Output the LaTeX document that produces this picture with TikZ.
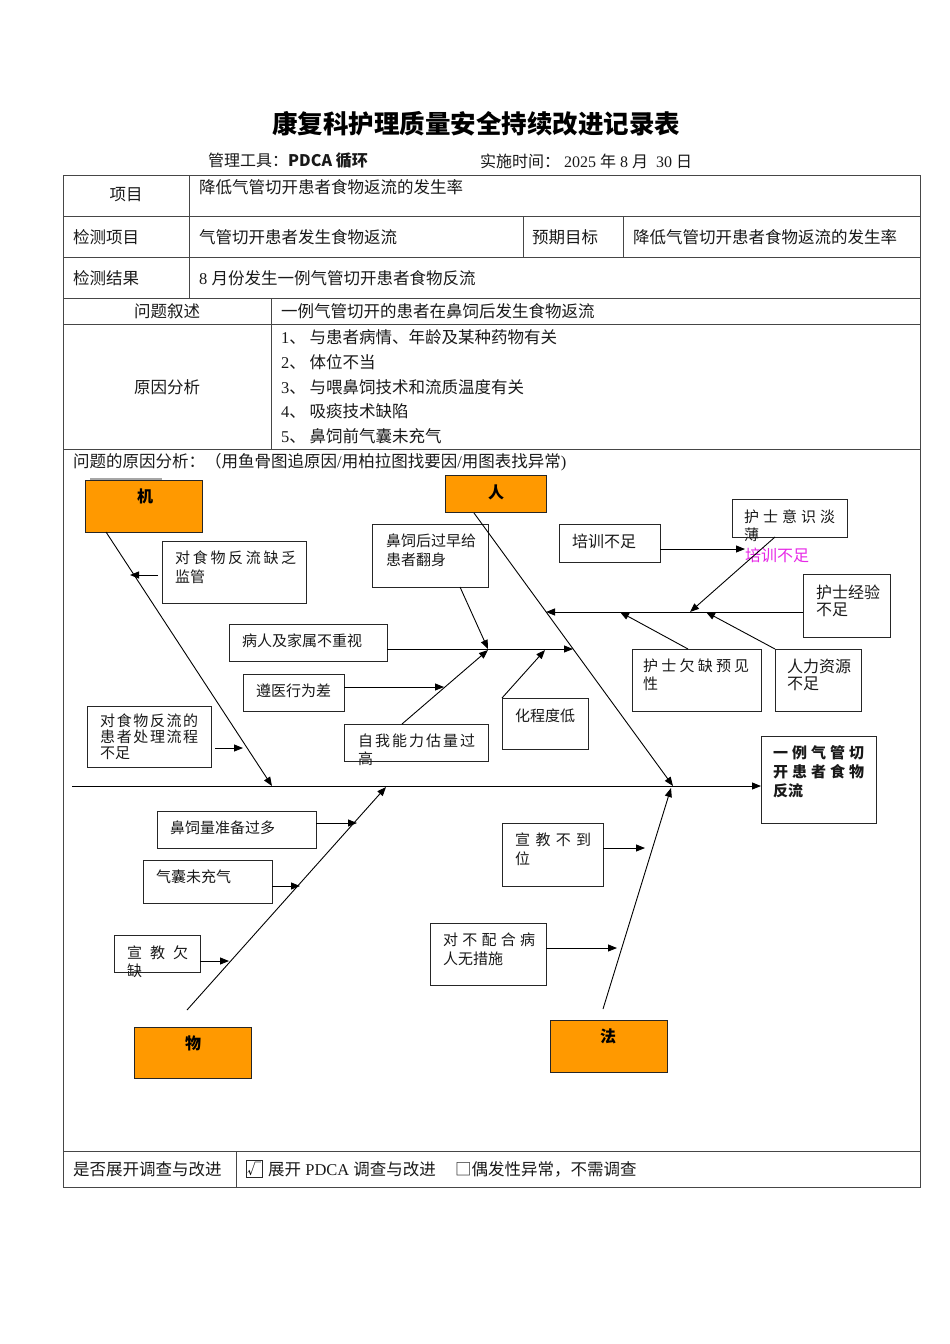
\documentclass[tikz,border=0pt]{standalone}
\usepackage{fontspec}
\setmainfont{Noto Sans CJK SC}
\newfontfamily\lat{Liberation Serif}
\usetikzlibrary{arrows.meta}
\definecolor{orng}{RGB}{255,153,0}
\definecolor{tline}{RGB}{70,70,70}
\definecolor{txt}{RGB}{25,25,25}
\definecolor{mag}{RGB}{230,40,230}
\newcommand\mybox[6][bx]{\node[#1, minimum width={#5-#3}, minimum height={#6-#4}] (#2) at ({(#3+#5)/2},{(#4+#6)/2}) {};}
\newcommand\spr[2]{\makebox[#1pt][s]{#2}}
\begin{document}
\begin{tikzpicture}[x=1pt,y=-1pt,
  tl/.style={draw=tline, line width=1pt},
  bx/.style={draw=black!85, line width=1pt, inner sep=0},
  ob/.style={bx, fill=orng},
  tt/.style={inner sep=0, anchor=west, text=txt, font=\fontsize{16.5}{19}\selectfont},
  ft/.style={inner sep=0, anchor=west, text=txt, font=\fontsize{15}{18}\selectfont},
  lb/.style={inner sep=0, anchor=center, text=black, font=\fontsize{16}{18}\selectfont\bfseries},
  ar/.style={-{Triangle[length=9pt,width=7pt]}, line width=0.9pt, black},
  bn/.style={line width=1pt, black}]
\useasboundingbox (0,0) rectangle (950,1344);
% ---------- header ----------
\node[inner sep=0, font=\fontsize{25.5}{28}\selectfont\bfseries] (title) at (476,124) {康复科护理质量安全持续改进记录表};
\node[tt, font=\fontsize{16}{19}\selectfont] (tool) at (208,161) {管理工具：\textbf{PDCA 循环}};
\node[tt, font=\fontsize{16}{19}\selectfont] (date) at (480,161) {实施时间：{\lat\ 2025 }年{\lat\ 8 }月{\lat\ \ 30 }日};
% ---------- table ----------
\draw[tl] (63,175) rectangle (920,1187);
\foreach \yy in {216,257,298,324,449,1151} \draw[tl] (63,\yy) -- (920,\yy);
\draw[tl] (189,175) -- (189,298);
\draw[tl] (523,216) -- (523,257);
\draw[tl] (623,216) -- (623,257);
\draw[tl] (271,298) -- (271,449);
\draw[tl] (236,1151) -- (236,1187);
\node[tt, anchor=center] (r1a) at (126,195) {项目};
\node[tt] (r1b) at (199,187) {降低气管切开患者食物返流的发生率};
\node[tt] (r2a) at (73,237) {检测项目};
\node[tt] (r2b) at (199,237) {气管切开患者发生食物返流};
\node[tt] (r2c) at (532,237) {预期目标};
\node[tt] (r2d) at (633,237) {降低气管切开患者食物返流的发生率};
\node[tt] (r3a) at (73,278) {检测结果};
\node[tt] (r3b) at (199,278) {{\lat 8 }月份发生一例气管切开患者食物反流};
\node[tt, anchor=center] (r4a) at (167,311) {问题叙述};
\node[tt] (r4b) at (281,311) {一例气管切开的患者在鼻饲后发生食物返流};
\node[tt, anchor=center] (r5a) at (167,387) {原因分析};
\node[tt] (c1) at (281,337) {{\lat 1}、 与患者病情、年龄及某种药物有关};
\node[tt] (c2) at (281,362) {{\lat 2}、 体位不当};
\node[tt] (c3) at (281,387) {{\lat 3}、 与喂鼻饲技术和流质温度有关};
\node[tt] (c4) at (281,411) {{\lat 4}、 吸痰技术缺陷};
\node[tt] (c5) at (281,436) {{\lat 5}、 鼻饲前气囊未充气};
\node[tt] (fhead) at (73,462) {问题的原因分析：（用鱼骨图追原因{\lat /}用柏拉图找要因{\lat /}用图表找异常{\lat )}};
\node[tt] (l1) at (73,1169) {是否展开调查与改进};
\node[draw=black!85, line width=0.8pt, minimum width=16pt, minimum height=17pt, inner sep=0] (chk) at (254,1168.5) {};
\node[inner sep=0, font=\fontsize{14}{16}\selectfont] (chkm) at (chk.center) {√};
\node[tt] (l2) at (268,1169) {展开{\lat\ PDCA }调查与改进};
\node[tt] (l3) at (455,1169) {□偶发性异常，不需调查};
% ---------- fishbone boxes ----------
\draw[gray!70, line width=1.5pt] (90,479) -- (162,479);
\mybox[ob]{ji}{85}{480}{202}{532}
\mybox[ob]{ren}{445}{475}{546}{512}
\mybox[ob]{wu}{134}{1027}{251}{1078}
\mybox[ob]{fa}{550}{1020}{667}{1072}
\mybox{eff}{761}{736}{876}{823}
\mybox{bjg}{162}{541}{306}{603}
\mybox{blc}{87}{706}{211}{767}
\mybox{bhs}{732}{499}{847}{537}
\mybox{bpx}{559}{524}{660}{562}
\mybox{bjy}{803}{574}{890}{637}
\mybox{byj}{632}{649}{761}{711}
\mybox{brl}{775}{649}{861}{711}
\mybox{bfs}{372}{524}{488}{587}
\mybox{bzs}{229}{624}{387}{661}
\mybox{bzy}{243}{674}{344}{711}
\mybox{bzw}{344}{724}{488}{761}
\mybox{bwh}{502}{698}{588}{749}
\mybox{bsl}{157}{811}{316}{848}
\mybox{bqn}{143}{860}{272}{903}
\mybox{bxq}{114}{935}{200}{972}
\mybox{bxb}{502}{823}{603}{886}
\mybox{bpc}{430}{923}{546}{985}
% ---------- labels ----------
\node[lb] (tji) at (145,496) {机};
\node[lb] (tren) at (496,492) {人};
\node[lb] (twu) at (193,1043) {物};
\node[lb] (tfa) at (608,1036) {法};
\node[ft] (tjg1) at (175,558) {\spr{121}{对\hfill 食\hfill 物\hfill 反\hfill 流\hfill 缺\hfill 乏}};
\node[ft] (tjg2) at (175,577) {监管};
\node[ft] (tlc1) at (100,721) {\spr{98}{对\hfill 食\hfill 物\hfill 反\hfill 流\hfill 的}};
\node[ft] (tlc2) at (100,737) {\spr{98}{患\hfill 者\hfill 处\hfill 理\hfill 流\hfill 程}};
\node[ft] (tlc3) at (100,753) {不足};
\node[ft] (ths1) at (744,517) {\spr{91}{护\hfill 士\hfill 意\hfill 识\hfill 淡}};
\node[ft] (ths2) at (744,535) {薄};
\node[ft, text=mag, font=\fontsize{16}{18}\selectfont] (tmag) at (745,555) {培训不足};
\node[ft, font=\fontsize{16}{18}\selectfont] (tpx) at (572,541) {培训不足};
\node[ft, font=\fontsize{16}{18}\selectfont] (tjy1) at (816,592) {护士经验};
\node[ft, font=\fontsize{16}{18}\selectfont] (tjy2) at (816,610) {不足};
\node[ft] (tyj1) at (643,666) {\spr{106}{护\hfill 士\hfill 欠\hfill 缺\hfill 预\hfill 见}};
\node[ft] (tyj2) at (643,684) {性};
\node[ft, font=\fontsize{16}{18}\selectfont] (trl1) at (787,666) {人力资源};
\node[ft, font=\fontsize{16}{18}\selectfont] (trl2) at (787,684) {不足};
\node[ft] (tfs1) at (386,541) {鼻饲后过早给};
\node[ft] (tfs2) at (386,560) {患者翻身};
\node[ft] (tzs) at (242,641) {病人及家属不重视};
\node[ft] (tzy) at (256,691) {遵医行为差};
\node[ft] (tzw1) at (358,741) {\spr{117}{自\hfill 我\hfill 能\hfill 力\hfill 估\hfill 量\hfill 过}};
\node[ft] (tzw2) at (358,759) {高};
\node[ft] (twh) at (515,716) {化程度低};
\node[ft, font=\fontsize{15}{18}\selectfont\bfseries] (tef1) at (773,753) {\spr{91}{一\hfill 例\hfill 气\hfill 管\hfill 切}};
\node[ft, font=\fontsize{15}{18}\selectfont\bfseries] (tef2) at (773,772) {\spr{91}{开\hfill 患\hfill 者\hfill 食\hfill 物}};
\node[ft, font=\fontsize{15}{18}\selectfont\bfseries] (tef3) at (773,791) {反流};
\node[ft] (tsl) at (170,828) {鼻饲量准备过多};
\node[ft] (tqn) at (156,877) {气囊未充气};
\node[ft] (txq1) at (127,953) {\spr{61}{宣\hfill 教\hfill 欠}};
\node[ft] (txq2) at (127,971) {缺};
\node[ft] (txb1) at (515,840) {\spr{76}{宣\hfill 教\hfill 不\hfill 到}};
\node[ft] (txb2) at (515,859) {位};
\node[ft] (tpc1) at (443,940) {\spr{92}{对\hfill 不\hfill 配\hfill 合\hfill 病}};
\node[ft] (tpc2) at (443,959) {人无措施};
% ---------- coordinates ----------
\coordinate (jiS) at (106,532);   \coordinate (jiE) at (272,786);
\coordinate (jgS) at (158,575);   \coordinate (jgE) at (130,575);
\coordinate (lcS) at (215,748);   \coordinate (lcE) at (243,748);
\coordinate (renS) at (474,513);  \coordinate (renE) at (673,786);
\coordinate (subS) at (803,612);  \coordinate (subE) at (546,612);
\coordinate (hsS) at (775,537);   \coordinate (hsE) at (690,612);
\coordinate (pxS) at (660,549);   \coordinate (pxE) at (745,549);
\coordinate (yjS) at (688,649);   \coordinate (yjE) at (620,612);
\coordinate (rlS) at (775,649);   \coordinate (rlE) at (706,612);
\coordinate (zsS) at (387,649);   \coordinate (zsE) at (573,649);
\coordinate (fsS) at (460,587);   \coordinate (fsE) at (488,649);
\coordinate (zyS) at (344,687);   \coordinate (zyE) at (444,687);
\coordinate (zwS) at (402,724);   \coordinate (zwE) at (488,650);
\coordinate (whS) at (502,698);   \coordinate (whE) at (545,650);
\coordinate (spS) at (72,786);    \coordinate (spE) at (761,786);
\coordinate (wuS) at (187,1010);  \coordinate (wuE) at (386,787);
\coordinate (slS) at (316,823);   \coordinate (slE) at (357,823);
\coordinate (qnS) at (272,886);   \coordinate (qnE) at (300,886);
\coordinate (xqS) at (200,961);   \coordinate (xqE) at (229,961);
\coordinate (faS) at (603,1009);  \coordinate (faE) at (671,788);
\coordinate (xbS) at (603,848);   \coordinate (xbE) at (645,848);
\coordinate (pcS) at (546,948);   \coordinate (pcE) at (617,948);
% ---------- connectors ----------
\draw[ar] (spS) -- (spE);
\draw[ar] (jiS) -- (jiE);
\draw[ar] (jgS) -- (jgE);
\draw[ar] (lcS) -- (lcE);
\draw[ar] (renS) -- (renE);
\draw[ar] (subS) -- (subE);
\draw[ar] (hsS) -- (hsE);
\draw[ar] (pxS) -- (pxE);
\draw[ar] (yjS) -- (yjE);
\draw[ar] (rlS) -- (rlE);
\draw[ar] (zsS) -- (zsE);
\draw[ar] (fsS) -- (fsE);
\draw[ar] (zyS) -- (zyE);
\draw[ar] (zwS) -- (zwE);
\draw[ar] (whS) -- (whE);
\draw[ar] (wuS) -- (wuE);
\draw[ar] (slS) -- (slE);
\draw[ar] (qnS) -- (qnE);
\draw[ar] (xqS) -- (xqE);
\draw[ar] (faS) -- (faE);
\draw[ar] (xbS) -- (xbE);
\draw[ar] (pcS) -- (pcE);
\end{tikzpicture}
\end{document}
